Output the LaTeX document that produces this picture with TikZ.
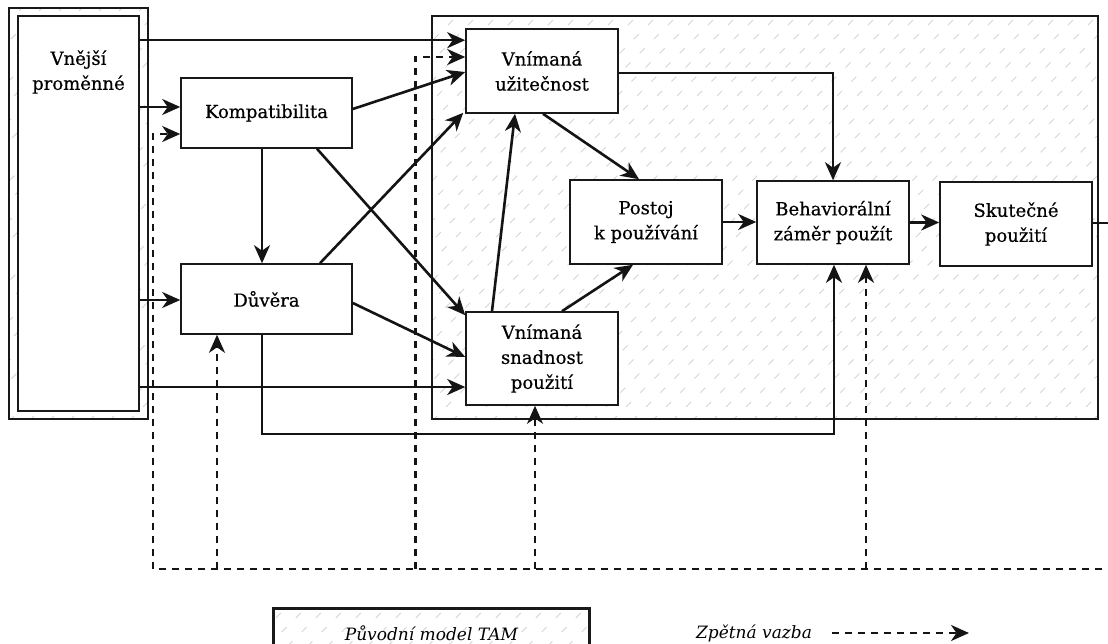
\documentclass[tikz,border=0pt]{standalone}
\usepackage{fontspec}
\setmainfont{DejaVu Serif}
\newfontfamily\slabfont{DejaVu Serif}[FakeBold=0.5]
\usetikzlibrary{arrows.meta,calc}
\newcommand{\boxfont}{\slabfont\fontsize{18}{25}\selectfont}
\newcommand{\legfont}{\fontsize{17}{22}\selectfont\itshape}
\begin{document}
\begin{tikzpicture}[x=1pt,y=-1pt,
  hatchline/.style={draw=black!17, line width=0.9pt, dash pattern=on 7pt off 13pt},
  hatched/.style={path picture={
      \foreach \k in {-440,-420,...,700}
        \draw[hatchline] ($(path picture bounding box.south west)+(\k,2)$) -- ++(460,-460);}},
  frame/.style={draw=black!90, line width=2.8pt, fill=white},
  box/.style={draw=black!90, line width=1.6pt, fill=white, align=center,
              inner sep=0pt, font=\boxfont},
  arr/.style={draw=black!92, line width=2.6pt, -{Stealth[length=18pt,width=16pt,inset=5.5pt]}},
  fbarr/.style={arr, dash pattern=on 7pt off 6pt}]
\clip (0,0) rectangle (1108,644);
\fill[white] (0,0) rectangle (1108,644);

% area of the original TAM model
\node[frame, hatched, minimum width=666, minimum height=403] (tam) at (765,217.5) {};

% external variables: double frame
\node[draw=black!90, line width=1.6pt, fill=white, hatched,
      minimum width=139, minimum height=411] (vpo) at (78.5,213.5) {};
\node[box, minimum width=121, minimum height=395] (vp) at (78.5,213.5) {};
\node[font=\boxfont, align=center] (vpt) at (78.5,72) {Vnější\\proměnné};

% model constructs
\node[box, minimum width=171, minimum height=70] (komp) at (266.5,113) {Kompatibilita};
\node[box, minimum width=171, minimum height=70] (duv) at (266.5,299) {Důvěra};
\node[box, minimum width=152, minimum height=84] (uzit) at (542,71) {Vnímaná\\užitečnost};
\node[box, minimum width=152, minimum height=93] (snad) at (542,358.5) {Vnímaná\\snadnost\\použití};
\node[box, minimum width=152, minimum height=84] (postoj) at (646,222) {Postoj\\k používání};
\node[box, minimum width=152, minimum height=83] (behav) at (833,222.5) {Behaviorální\\záměr použít};
\node[box, minimum width=152, minimum height=84] (skut) at (1016,224) {Skutečné\\použití};

% helper points on the borders
\path ($(uzit.north west)+(0,12)$) coordinate (u1)
      ($(komp.west)+(0,-6)$) coordinate (k1)
      ($(duv.west)+(0,1)$) coordinate (d1)
      ($(snad.west)+(0,28.5)$) coordinate (s1);

% solid relations
\draw[arr] (vp.east |- u1) -- (u1);
\draw[arr] (vp.east |- k1) -- (k1);
\draw[arr] (vp.east |- d1) -- (d1);
\draw[arr] (vp.east |- s1) -- (s1);
\draw[arr] ($(komp.east)+(0,-4)$) -- ($(uzit.west)+(0,1)$);
\draw[arr] ($(komp.south)+(-4.5,0)$) -- ($(duv.north)+(-4.5,0)$);
\draw[arr] ($(komp.south)+(50.5,0)$) -- ($(snad.north west)+(0,4)$);
\draw[arr] ($(duv.north)+(53.5,0)$) -- ($(uzit.south west)+(-2,-1)$);
\draw[arr] ($(duv.east)+(0,4)$) -- ($(snad.west)+(0,-1.5)$);
\draw[arr] ($(duv.south)+(-4.5,0)$) |- ($(behav.south)+(1,169)$) -- ($(behav.south)+(1,0)$);
\draw[arr] ($(snad.north)+(-50,0)$) -- ($(uzit.south)+(-27,0)$);
\draw[arr] ($(snad.north)+(20,0)$) -- ($(postoj.south)+(-13,0)$);
\draw[arr] ($(uzit.south)+(1,0)$) -- ($(postoj.north)+(-7,0)$);
\draw[arr] ($(uzit.east)+(0,2)$) -| (behav.north);
\draw[arr] (postoj.east) -- (postoj.east -| behav.west);
\draw[arr] (behav.east) -- (behav.east -| skut.west);
\coordinate (skutout) at (1115,223);
\draw[draw=black!92, line width=2.6pt] (skut.east |- skutout) -- (skutout);

% feedback loop
\coordinate (fbR) at (1115,569);
\coordinate (fbL) at (153,569);
\path ($(duv.south)+(-49.5,0)$) coordinate (d2)
      ($(uzit.west)+(-50,-14)$) coordinate (u3)
      ($(snad.south)+(-7,0)$) coordinate (s2)
      ($(behav.south)+(33,0)$) coordinate (b2)
      ($(komp.west)+(0,21)$) coordinate (k2);
\draw[fbarr] (fbR) -- (fbL) |- (k2);
\draw[fbarr] (d2 |- fbL) -- (d2);
\draw[fbarr] (u3 |- fbL) -- (u3) -- (u3 -| uzit.west);
\draw[fbarr] (s2 |- fbL) -- (s2);
\draw[fbarr] (b2 |- fbL) -- (b2);

% legend
\node[frame, hatched, anchor=north west, minimum width=316, minimum height=50,
      font=\legfont] (leg) at (272,607) {Původní model TAM};
\node[font=\legfont] (fbt) at (754,633) {Zpětná vazba};
\coordinate (fbend) at (969,633);
\draw[fbarr] ($(fbt.east)+(17,0)$) -- (fbend);
\end{tikzpicture}
\end{document}
